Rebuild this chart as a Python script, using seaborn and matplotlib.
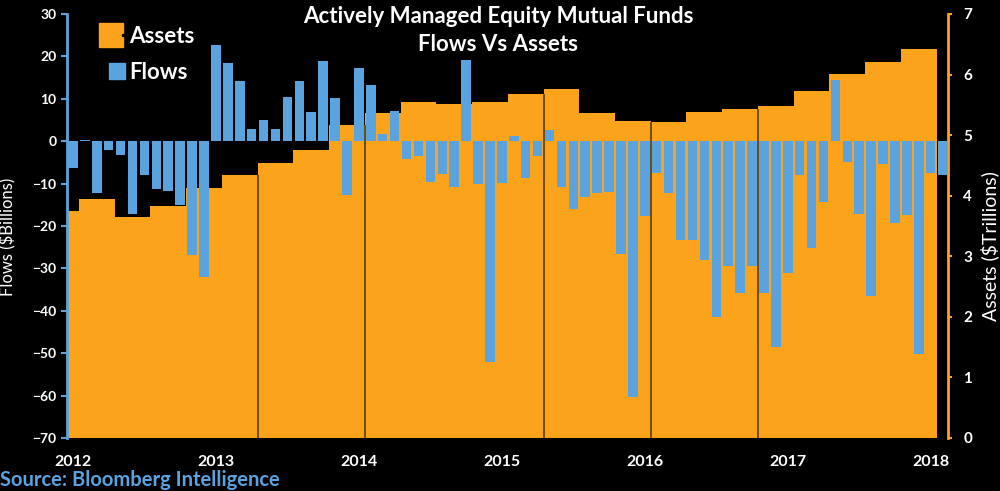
import numpy as np
import pandas as pd
import matplotlib
matplotlib.use('Agg')
import matplotlib.pyplot as plt
import seaborn as sns
from matplotlib.lines import Line2D
from matplotlib.legend_handler import HandlerTuple

# monthly flows ($bn), Jan 2012 - Feb 2018
flows = [-6.4, 0.3, -12.3, -2.0, -3.2, -17.2, -8.0, -11.2, -11.8, -15.1, -26.9, -32.1,
         22.8, 18.5, 14.2, 2.8, 5.1, 2.8, 10.5, 14.2, 6.8, 18.9, 10.2, -12.6,
         17.3, 13.2, 1.6, 7.1, -4.3, -3.4, -9.6, -7.7, -10.8, 19.1, -10.1, -52.0,
         -9.8, 1.3, -8.6, -3.5, 2.6, -10.8, -16.0, -13.1, -12.3, -12.0, -26.5, -60.3,
         -17.7, -7.6, -12.3, -23.2, -23.3, -28.1, -41.4, -29.5, -35.9, -29.5, -35.7, -48.5,
         -31.1, -7.9, -25.1, -14.3, 14.4, -4.9, -17.1, -36.6, -5.4, -19.3, -17.3, -50.1,
         -7.6, -8.0]

# assets ($tn), held for a quarter (first value covers Jan 2012 only)
assets_quarterly = [3.75, 3.95, 3.65, 3.83, 4.13, 4.34, 4.54, 4.75, 5.17, 5.36, 5.54, 5.51,
                    5.54, 5.68, 5.76, 5.36, 5.24, 5.21, 5.38, 5.43, 5.48, 5.73, 6.01, 6.21, 6.43]
months_held = [1] + [3] * 24
assets = list(np.repeat(assets_quarterly, months_held)) + [np.nan]  # no Feb 2018 value

months = pd.date_range('2012-01-01', periods=len(flows), freq='MS').strftime('%Y-%m')
years = ['2012', '2013', '2014', '2015', '2016', '2017', '2018']
separator_months = [16, 25, 40, 49, 58]  # dark edges visible in the asset area

df = pd.DataFrame({'month': months, 'flows': flows, 'assets': assets})

orange = '#FCA31C'
blue = '#5AA3DF'
plt.rcParams['font.family'] = ['Lato', 'DejaVu Sans']
plt.rcParams['font.weight'] = 'bold'

fig = plt.figure(figsize=(10, 4.91), dpi=100, facecolor='black')
ax2 = fig.add_axes([0.067, 0.108, 0.881, 0.8635])
ax = ax2.twinx()

# assets on the back axis (right scale)
sns.barplot(data=df, x='month', y='assets', order=months, color=orange, saturation=1,
            width=1.0, linewidth=0, errorbar=None, ax=ax2)
for m in separator_months:
    h = min(df['assets'][m - 1], df['assets'][m])
    ax2.vlines(m - 0.5, 0, h, color='#5a3c08', linewidth=1.2, zorder=3)

# flows on the front axis (left scale)
sns.barplot(data=df, x='month', y='flows', order=months, color=blue, saturation=1,
            width=0.8, linewidth=0, errorbar=None, ax=ax)

ax2.set_facecolor('black')
ax2.set_ylim(0, 7)
ax.set_ylim(-70, 30)
ax2.set_xlim(-0.5, 73.45)

# left axis = flows, right axis = assets
ax.yaxis.tick_left()
ax.yaxis.set_label_position('left')
ax2.yaxis.tick_right()
ax2.yaxis.set_label_position('right')
ax.set_yticks(range(-70, 31, 10))
ax2.set_yticks(range(0, 8))
ax.tick_params(axis='y', colors='white', labelsize=10, length=4, width=1.5, direction='out')
ax.tick_params(axis='y', color=blue)
ax2.tick_params(axis='y', colors='white', labelsize=11, length=3, width=1.5, direction='out', pad=8)
ax2.tick_params(axis='y', color=orange)
for t in ax.get_yticklabels() + ax2.get_yticklabels():
    t.set_fontweight('bold')

ax2.set_xticks(range(0, 73, 12))
ax2.set_xticklabels(years, color='white', fontsize=11.5, fontweight='bold')
ax2.tick_params(axis='x', length=0, pad=12)
ax.tick_params(axis='x', length=0, labelbottom=False)
ax.set_xlabel('')
ax2.set_xlabel('')

ax.set_ylabel('Flows ($Billions)', color='white', fontsize=12, fontweight='normal')
ax.yaxis.set_label_coords(-0.057, 0.474)
ax2.set_ylabel('Assets ($Trillions)', color='white', fontsize=14, fontweight='normal')
ax2.yaxis.set_label_coords(1.037, 0.453)

for a in (ax, ax2):
    for s in a.spines.values():
        s.set_visible(False)
ax.spines['left'].set_visible(True)
ax.spines['left'].set_color(blue)
ax.spines['left'].set_linewidth(2)
ax2.spines['right'].set_visible(True)
ax2.spines['right'].set_color(orange)
ax2.spines['right'].set_linewidth(2)

fig.text(0.498, 0.988, 'Actively Managed Equity Mutual Funds\nFlows Vs Assets',
         ha='center', va='top', color='white', fontsize=16, fontweight='bold', linespacing=1.4)

handles = [(Line2D([], [], marker='s', ms=17, color=orange, ls=''),
            Line2D([], [], marker='.', ms=3, color='black', ls='')),
           Line2D([], [], marker='s', ms=11, color=blue, ls='')]
leg = ax.legend(handles, ['Assets', 'Flows'], loc='upper left', bbox_to_anchor=(0.02, 1.02),
                frameon=False, fontsize=16, labelcolor='white', handlelength=1.1,
                handletextpad=0.0, labelspacing=0.7,
                handler_map={tuple: HandlerTuple(ndivide=None, pad=0)})

fig.text(0.0, 0.003, 'Source: Bloomberg Intelligence', color=blue, fontsize=14.5,
         fontweight='bold', ha='left', va='bottom')

fig.savefig('out.png', dpi=100, facecolor='black')
